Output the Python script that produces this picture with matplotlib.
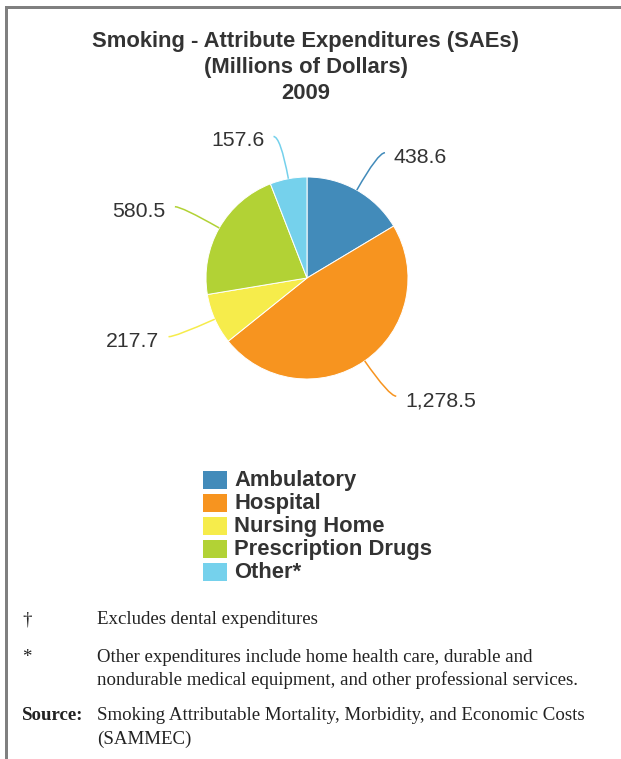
import matplotlib
matplotlib.use("Agg")
import matplotlib.pyplot as plt
import numpy as np
from matplotlib.path import Path
from matplotlib.patches import PathPatch, Rectangle

# Data
categories = ["Ambulatory", "Hospital", "Nursing Home", "Prescription Drugs", "Other*"]
values = [438.6, 1278.5, 217.7, 580.5, 157.6]
value_labels = ["438.6", "1,278.5", "217.7", "580.5", "157.6"]
colors = ["#428BBA", "#F7941F", "#F6EC4B", "#B2D235", "#75D1EC"]

title_lines = ["Smoking - Attribute Expenditures (SAEs)", "(Millions of Dollars)", "2009"]
notes = [
    ("\u2020", ["Excludes dental expenditures"]),
    ("*", ["Other expenditures include home health care, durable and",
           "nondurable medical equipment, and other professional services."]),
    ("Source:", ["Smoking Attributable Mortality, Morbidity, and Economic Costs",
                 "(SAMMEC)"]),
]

W, H = 621, 759
fig = plt.figure(figsize=(W / 100, H / 100), dpi=100)
ax = fig.add_axes([0, 0, 1, 1])


def Y(y):
    return H - y


# Frame lines (top and left)
border = "#808080"
ax.add_patch(Rectangle((5, Y(759)), 3, 759 - 6, color=border, lw=0))
ax.add_patch(Rectangle((5, Y(9)), W - 5, 3, color=border, lw=0))

# Title
sans = "Liberation Sans"
for i, line in enumerate(title_lines):
    ax.text(306, Y(42 + 25.8 * i), line, ha="center", va="center",
            fontsize=15.8, fontweight="bold", color="#333333", family=sans)

# Pie
cx, cy, r = 307, Y(278), 101
wedges, _ = ax.pie(values, colors=colors, startangle=90, counterclock=False,
                   center=(cx, cy), radius=r,
                   wedgeprops=dict(edgecolor="white", linewidth=0.7))
ax.set_xlim(0, W)
ax.set_ylim(0, H)
ax.set_aspect("equal")
ax.axis("off")

# Value labels with soft connectors
total = sum(values)
start = 0.0
for v, lab, col in zip(values, value_labels, colors):
    frac = v / total * 360.0
    mid = np.deg2rad(start + frac / 2)  # degrees clockwise from top
    start += frac
    dx, dy = np.sin(mid), np.cos(mid)
    edge = (cx + r * dx, cy + r * dy)
    elbow = (cx + (r + 43) * dx, cy + (r + 43) * dy)
    side = 1 if dx >= 0 else -1
    end = (elbow[0] + side * 7, elbow[1])
    path = Path([end, elbow, edge], [Path.MOVETO, Path.CURVE3, Path.CURVE3])
    ax.add_patch(PathPatch(path, fc="none", ec=col, lw=1.1))
    ax.text(end[0] + side * 9, end[1] - 4.5, lab, ha="left" if side > 0 else "right",
            va="center", fontsize=15.3, color="#333333", family=sans)

# Legend
for i, (cat, col) in enumerate(zip(categories, colors)):
    top = 471 + 23 * i
    ax.add_patch(Rectangle((203, Y(top + 18)), 24, 18, color=col, lw=0))
    ax.text(234, Y(top + 9.5), cat, ha="left", va="center", fontsize=15.8,
            fontweight="bold", color="#333333", family=sans)

# Footnotes
serif = "Liberation Serif"
ys = [620, 657, 716]
for (mark, lines), y0 in zip(notes, ys):
    bold = mark == "Source:"
    ax.text(22, Y(y0), mark, ha="left", va="center", fontsize=13.6,
            fontweight="bold" if bold else "normal", color="#222222", family=serif)
    for j, line in enumerate(lines):
        ax.text(97, Y(y0 + 23 * j), line, ha="left", va="center", fontsize=13.6,
                color="#222222", family=serif)

fig.savefig("out.png", dpi=100)
